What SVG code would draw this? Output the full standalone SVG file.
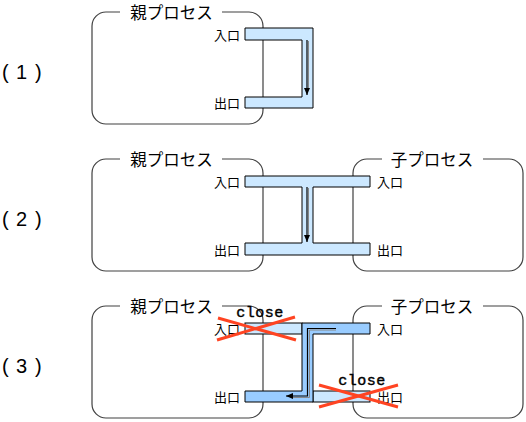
<svg xmlns="http://www.w3.org/2000/svg" width="526" height="422" viewBox="0 0 526 422">
<style>
.box{fill:#fff;stroke:#404040;stroke-width:1.2}
.gap{fill:#fff;stroke:none}
.ttl{font-family:"Noto Sans CJK JP","Noto Sans",sans-serif;font-size:16.5px;fill:#000;text-anchor:middle}
.lbl{font-family:"Noto Sans CJK JP","Noto Sans",sans-serif;font-size:13px;fill:#000}
.num{font-family:"Liberation Sans","Noto Sans CJK JP",sans-serif;font-size:20px;fill:#000}
.lt{fill:#CCE8FF;stroke:#000;stroke-width:1}
.dk{fill:#99CCFF;stroke:#000;stroke-width:1}
.arr{fill:none;stroke:#000;stroke-width:1.2}
.sh{fill:none;stroke:#888;stroke-width:1}
.x{stroke:#FF4422;stroke-width:3;stroke-linecap:butt}
.cl{font-family:"Liberation Mono",monospace;font-size:15px;fill:#000;text-anchor:middle;letter-spacing:0.5px;stroke:#000;stroke-width:0.4}
</style>
<defs>
<marker id="ah" markerWidth="8" markerHeight="8" refX="7" refY="4" orient="auto" markerUnits="userSpaceOnUse">
<path d="M0,1 L7,4 L0,7 Z" fill="#000"/>
</marker>
</defs>

<g id="labels">
<text class="num" y="79"><tspan x="2">(</tspan><tspan x="16">1</tspan><tspan x="35">)</tspan></text>
<text class="num" y="226"><tspan x="2">(</tspan><tspan x="16">2</tspan><tspan x="35">)</tspan></text>
<text class="num" y="373"><tspan x="2">(</tspan><tspan x="16">3</tspan><tspan x="35">)</tspan></text>
</g>

<!-- Panel 1 -->
<g id="p1-parent">
<rect class="box" x="92" y="12" width="171" height="112" rx="14"/>
<rect class="gap" x="120" y="5" width="102" height="14"/>
<text class="ttl" x="171.5" y="19">親プロセス</text>
<text class="lbl" x="240" y="40" text-anchor="end">入口</text>
<text class="lbl" x="240" y="108" text-anchor="end">出口</text>
</g>

<!-- Panel 2 -->
<g id="p2-parent">
<rect class="box" x="92" y="159" width="171" height="112" rx="14"/>
<rect class="gap" x="120" y="152" width="102" height="14"/>
<text class="ttl" x="171.5" y="166">親プロセス</text>
<text class="lbl" x="240" y="187" text-anchor="end">入口</text>
<text class="lbl" x="240" y="255" text-anchor="end">出口</text>
</g>
<g id="p2-child">
<rect class="box" x="353" y="159" width="170" height="112" rx="14"/>
<rect class="gap" x="382" y="152" width="101" height="14"/>
<text class="ttl" x="432" y="166">子プロセス</text>
<text class="lbl" x="377" y="187">入口</text>
<text class="lbl" x="377" y="255">出口</text>
</g>

<!-- Panel 3 -->
<g id="p3-parent">
<rect class="box" x="92" y="306" width="171" height="112" rx="14"/>
<rect class="gap" x="120" y="299" width="102" height="14"/>
<text class="ttl" x="171.5" y="313">親プロセス</text>
<text class="lbl" x="240" y="334" text-anchor="end">入口</text>
<text class="lbl" x="240" y="402" text-anchor="end">出口</text>
</g>
<g id="p3-child">
<rect class="box" x="353" y="306" width="170" height="112" rx="14"/>
<rect class="gap" x="382" y="299" width="101" height="14"/>
<text class="ttl" x="432" y="313">子プロセス</text>
<text class="lbl" x="377" y="334">入口</text>
<text class="lbl" x="377" y="402">出口</text>
</g>

<g id="connectors">
<!-- panel 1 pipe -->
<path class="lt" d="M245,28 H313 V108 H245 V97 H302 V40 H245 Z"/>
<line class="sh" x1="308.5" y1="41" x2="308.5" y2="88"/>
<line class="arr" x1="307" y1="40" x2="307" y2="95" marker-end="url(#ah)"/>

<!-- panel 2 pipe -->
<path class="lt" d="M245,176 H370 V187 H313 V243 H370 V255 H245 V243 H302 V187 H245 Z"/>
<line class="sh" x1="308.5" y1="188" x2="308.5" y2="236"/>
<line class="arr" x1="307" y1="187" x2="307" y2="242" marker-end="url(#ah)"/>

<!-- panel 3 pipe -->
<rect class="lt" x="245" y="323" width="57" height="11"/>
<rect class="lt" x="313" y="391" width="57" height="11"/>
<path class="dk" d="M302,323 H370 V334 H313 V402 H245 V391 H302 Z"/>
<path class="sh" d="M336,330 H309.5 V397.5 H292"/>
<path class="arr" d="M336,328.5 H307.5 V396 H286" marker-end="url(#ah)"/>

<!-- close marks -->
<line class="x" x1="218" y1="318" x2="296" y2="340"/>
<line class="x" x1="217" y1="340" x2="295" y2="317"/>
<text class="cl" x="260" y="317">close</text>
<line class="x" x1="319" y1="385" x2="398" y2="407"/>
<line class="x" x1="319" y1="407" x2="398" y2="385"/>
<text class="cl" x="362" y="385">close</text>
</g>
</svg>
